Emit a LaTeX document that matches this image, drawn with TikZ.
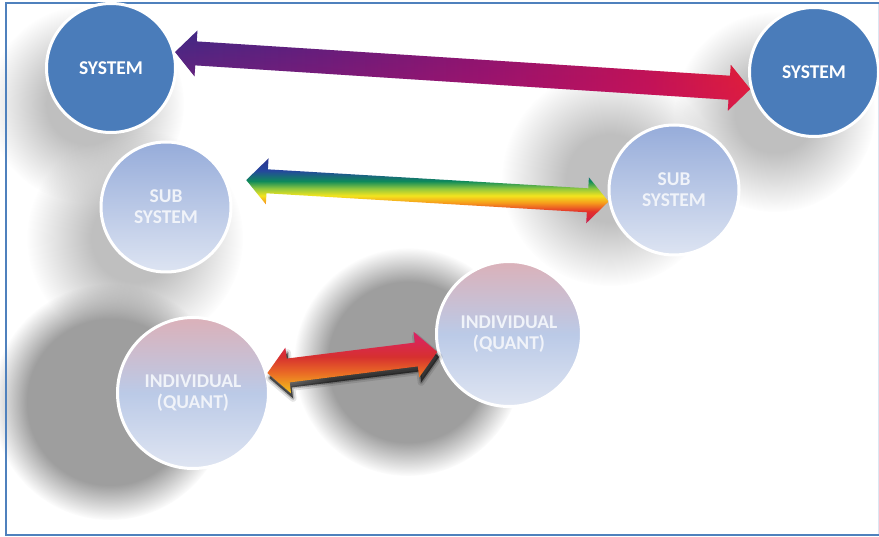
\documentclass[tikz,border=0pt]{standalone}
\usepackage{fontspec}
\setmainfont{Carlito}
\usetikzlibrary{calc,fadings}

% palette
\definecolor{frameblue}{HTML}{4F81BD}
\definecolor{framefaint}{HTML}{DCE5F1}
\definecolor{sysblue}{HTML}{4A7CBA}
\definecolor{subtop}{HTML}{96ACDA}
\definecolor{subbot}{HTML}{DDE4F2}
\definecolor{indtop}{HTML}{DBB1B9}
\definecolor{indmid}{HTML}{BBCAE7}
\definecolor{indbot}{HTML}{DFE5F2}
\definecolor{labelwhite}{HTML}{F0F3F9}
% top arrow
\definecolor{arA}{HTML}{3D2A86}
\definecolor{arB}{HTML}{5A1F7E}
\definecolor{arC}{HTML}{861570}
\definecolor{arD}{HTML}{BC1352}
\definecolor{arE}{HTML}{E4232B}
\definecolor{arGlow}{HTML}{D0106A}
% middle arrow
\definecolor{rbIndigo}{HTML}{2C2C8A}
\definecolor{rbBlue}{HTML}{25479E}
\definecolor{rbGreen}{HTML}{0E8A5A}
\definecolor{rbLime}{HTML}{8DC63F}
\definecolor{rbYellow}{HTML}{F2E41E}
\definecolor{rbOrange}{HTML}{F69A1C}
\definecolor{rbRed}{HTML}{E3302A}
\definecolor{rbMag}{HTML}{BE175E}
% bottom arrow
\definecolor{faCrimson}{HTML}{DA2460}
\definecolor{faRed}{HTML}{D6302F}
\definecolor{faOrange}{HTML}{EA6A25}
\definecolor{faAmber}{HTML}{F2B01E}
\definecolor{faYellow}{HTML}{F8DC18}

\pgfdeclarehorizontalshading{purplered}{100bp}{color(0bp)=(arA); color(25bp)=(arA);
  color(38bp)=(arB); color(52bp)=(arC); color(66bp)=(arD); color(75bp)=(arE); color(100bp)=(arE)}
% bands for a band of height 60 (25bp = lower edge, 75bp = upper edge)
\pgfdeclareverticalshading{rainbowband}{100bp}{color(0bp)=(rbMag); color(25bp)=(rbMag);
  color(35.8bp)=(rbRed); color(41.7bp)=(rbOrange); color(46.7bp)=(rbYellow); color(51.7bp)=(rbLime);
  color(56.7bp)=(rbGreen); color(64bp)=(rbBlue); color(75bp)=(rbIndigo); color(100bp)=(rbIndigo)}
\pgfdeclareverticalshading{fireband}{100bp}{color(0bp)=(faYellow); color(25bp)=(faYellow);
  color(32bp)=(faAmber); color(43bp)=(faOrange); color(54bp)=(faRed); color(68bp)=(faCrimson);
  color(100bp)=(faCrimson)}

% soft round shadows (white = opaque, black = clear)
\pgfdeclareradialshading{softshadowmask}{\pgfpointorigin}{color(0bp)=(white);
  color(10bp)=(white); color(25bp)=(black); color(50bp)=(black)}
\pgfdeclarefading{softshadow}{\pgfuseshading{softshadowmask}}
\pgfdeclareradialshading{denseshadowmask}{\pgfpointorigin}{color(0bp)=(white);
  color(17.5bp)=(white); color(25bp)=(black); color(50bp)=(black)}
\pgfdeclarefading{denseshadow}{\pgfuseshading{denseshadowmask}}
% glow that grows towards the lower edge of a band
\tikzfading[name=downglow, top color=transparent!100, bottom color=transparent!0]

% double-headed block arrow outline between two tips
\newcommand\spanarrow[3]{%
  \path[#1] (#2)
    -- ($(#2)!21pt!(#3)!23pt!90:(#3)$)
    -- ($(#2)!21pt!(#3)!12pt!90:(#3)$)
    -- ($(#3)!21pt!(#2)!12pt!-90:(#2)$)
    -- ($(#3)!21pt!(#2)!23pt!-90:(#2)$)
    -- (#3)
    -- ($(#3)!21pt!(#2)!23pt!90:(#2)$)
    -- ($(#3)!21pt!(#2)!12pt!90:(#2)$)
    -- ($(#2)!21pt!(#3)!12pt!-90:(#3)$)
    -- ($(#2)!21pt!(#3)!23pt!-90:(#3)$)
    -- cycle;}

\begin{document}
\begin{tikzpicture}[x=1pt,y=-1pt,
  disc/.style={circle, draw=white, line width=3pt, inner sep=0pt, align=center,
    text=labelwhite, font=\bfseries\fontsize{19.5}{21}\selectfont},
  sysdisc/.style={disc, fill=sysblue, text=white, minimum size=129pt},
  subdisc/.style={disc, top color=subtop, bottom color=subbot, minimum size=130pt},
  inddisc/.style={disc, top color=indtop, bottom color=indbot, middle color=indmid},
  lightshadow/.style={fill=black!25, path fading=softshadow},
  darkshadow/.style={fill=black!38, path fading=denseshadow}]
\useasboundingbox (0,0) rectangle (879,537);
\fill[white] (0,0) rectangle (879,537);

% cast shadows
\fill[lightshadow] (86,104) circle (98pt);
\fill[lightshadow] (135,238) circle (108pt);
\fill[lightshadow] (775,112) circle (100pt);
\fill[lightshadow] (610,178) circle (108pt);
\fill[darkshadow] (110,402) circle (118pt);
\fill[darkshadow] (408,362) circle (114pt);

% frame
\draw[framefaint, line width=1pt] (878,3) -- (878,535);
\draw[frameblue, line width=2.5pt] (879,3) -- (6,3) -- (6,535) -- (879,535);

% circles
\node[sysdisc] (sysL) at (111,68) {SYSTEM};
\node[sysdisc] (sysR) at (814,72) {SYSTEM};
\node[subdisc] (subL) at (166,207) {SUB\\SYSTEM};
\node[subdisc] (subR) at (674,190) {SUB\\SYSTEM};
\node[inddisc, minimum size=151pt] (indL) at (193,393) {INDIVIDUAL\\(QUANT)};
\node[inddisc, minimum size=145pt] (indR) at (509,334) {INDIVIDUAL\\(QUANT)};

% arrow tips
\coordinate (tA) at (sysL.14);
\coordinate (tB) at (sysR.195);
\coordinate (mB) at (subR.190);
\coordinate (mA) at ($(subL.25)!20pt!(mB)$);
\coordinate (bA) at (indL.15);
\coordinate (bB) at (indR.194);
\coordinate (tC) at ($(tA)!0.5!(tB)$);
\coordinate (mC) at ($(mA)!0.5!(mB)$);
\coordinate (bC) at ($(bA)!0.5!(bB)$);

% system arrow: purple to red, warmer along its lower edge
\begin{scope}
  \spanarrow{clip}{tA}{tB}
  \spanarrow{shade, shading=purplered}{tA}{tB}
  \begin{scope}[shift={(tC)}, rotate=-3.7]
    \fill[arGlow, path fading=downglow, fill opacity=.45] (-300,-24) rectangle (300,24);
  \end{scope}
\end{scope}

% subsystem arrow: colour bands slightly tilted against the shaft
\begin{scope}
  \spanarrow{clip}{mA}{mB}
  \begin{scope}[shift={(mC)}, rotate=-1.8]
    \shade[shading=rainbowband] (-200,-30) rectangle (200,30);
  \end{scope}
\end{scope}

% individual arrow with its cast shadow
\begin{scope}[transform canvas={shift={(2pt,-5pt)}}]
  \spanarrow{fill=black, draw=black, line width=7pt, line join=round, opacity=.10}{bA}{bB}
  \spanarrow{fill=black, draw=black, line width=3pt, line join=round, opacity=.22}{bA}{bB}
  \spanarrow{fill=black, opacity=.45}{bA}{bB}
\end{scope}
\begin{scope}
  \spanarrow{clip}{bA}{bB}
  \begin{scope}[shift={(bC)}, rotate=5.9]
    \shade[shading=fireband] (-120,-24) rectangle (120,24);
  \end{scope}
\end{scope}
\end{tikzpicture}
\end{document}
